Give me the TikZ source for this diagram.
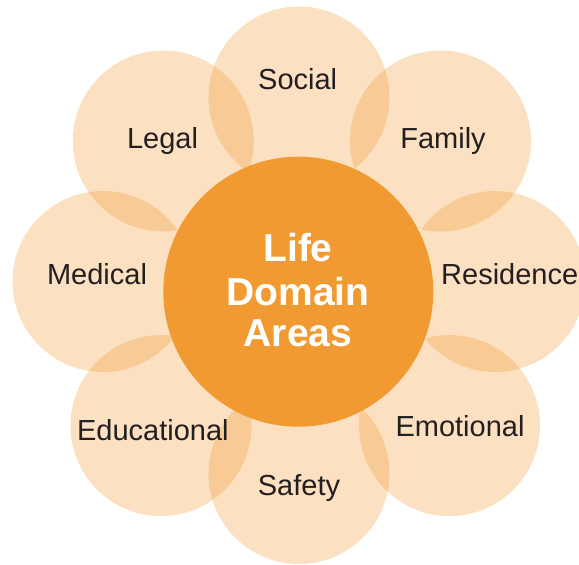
\documentclass[tikz,border=0pt]{standalone}
\usepackage{fontspec}
\setmainfont{Liberation Sans}
\definecolor{orng}{HTML}{F29A32}
\definecolor{txt}{HTML}{231F20}
\begin{document}
\begin{tikzpicture}[x=1bp,y=-1bp,
  petal/.style={circle,inner sep=0pt,minimum size=181bp,fill=orng,fill opacity=0.3,draw=none},
  hub/.style={circle,inner sep=0pt,minimum size=270bp,fill=orng,draw=none},
  lbl/.style={text=txt,inner sep=0pt,font=\fontsize{29bp}{34bp}\selectfont},
  title/.style={text=white,inner sep=0pt,align=center,font=\bfseries\fontsize{39bp}{42.5bp}\selectfont}]
\useasboundingbox (0,0) rectangle (579,565);
\node[petal] (social) at (299,97) {};
\node[petal] (family) at (440.5,141) {};
\node[petal] (legal) at (163.3,141) {};
\node[petal] (medical) at (103,281.5) {};
\node[petal] (residence) at (495,281.5) {};
\node[petal] (educational) at (161,425.6) {};
\node[petal] (emotional) at (449.5,425.6) {};
\node[petal] (safety) at (299,473.5) {};
\node[hub] (hub) at (298.3,291.7) {};
\node[title,anchor=base] (t1) at (298,261.7) {Life};
\node[title,anchor=base] (t2) at (298,305) {Domain};
\node[title,anchor=base] (t3) at (298,346.7) {Areas};
\node[lbl,anchor=base] (lsocial) at (297.7,89.3) {Social};
\node[lbl,anchor=base] (llegal) at (162.5,148.8) {Legal};
\node[lbl,anchor=base] (lfamily) at (443,148.8) {Family};
\node[lbl,anchor=base] (lmedical) at (97,284) {Medical};
\node[lbl,anchor=base west] (lresidence) at (441,284) {Residence};
\node[lbl,anchor=base] (leducational) at (152.9,440.4) {Educational};
\node[lbl,anchor=base] (lemotional) at (460,436) {Emotional};
\node[lbl,anchor=base] (lsafety) at (299,495) {Safety};
\end{tikzpicture}
\end{document}
